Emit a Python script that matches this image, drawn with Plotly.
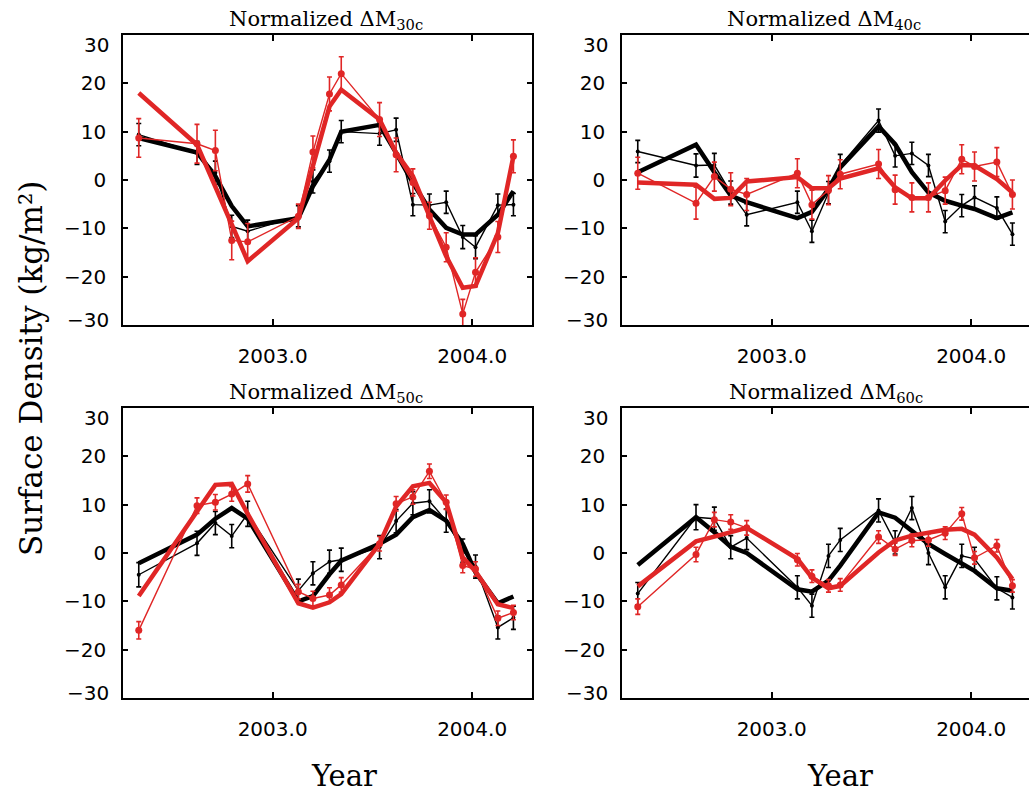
import plotly.graph_objects as go

# ---------------- data ----------------
years = [2002.329, 2002.621, 2002.713, 2002.795, 2002.875, 2003.129, 2003.202,
         2003.285, 2003.344, 2003.536, 2003.619, 2003.703, 2003.786, 2003.870,
         2003.953, 2004.017, 2004.129, 2004.207]

panel_titles = ["Normalized ΔM<sub>30c</sub>", "Normalized ΔM<sub>40c</sub>",
                "Normalized ΔM<sub>50c</sub>", "Normalized ΔM<sub>60c</sub>"]

x_tickvals = [2003.0, 2004.0]
x_ticktext = ["2003.0", "2004.0"]
y_tickvals = [-30, -20, -10, 0, 10, 20, 30]
y_ticktext = ["", "−20", "−10", "0", "10", "20", ""]
y_edge_labels = ["30", "−30"]

# panel 1 (30c)
p1_black_thin = [9.4, 5.6, 1.5, -9.6, -10.6, -7.5, -0.3, 3.9, 10.0, 9.6, 10.4, -5.1, -5.2, -4.6, -11.8, -13.9, -5.2, -5.1]
p1_black_err = [2.3, 2.4, 2.4, 2.3, 2.3, 2.2, 2.4, 2.3, 2.3, 2.4, 2.4, 2.3, 2.3, 2.3, 2.4, 2.4, 2.3, 2.3]
p1_black_thick = [8.7, 5.7, 0.8, -5.4, -9.6, -7.9, -1.3, 4.2, 10.0, 11.4, 5.6, -0.6, -6.1, -9.9, -11.3, -11.3, -7.2, -2.3]
p1_red_thin = [8.7, 7.5, 6.1, -12.5, -12.8, -7.5, 5.8, 17.8, 22.0, 12.5, 5.2, -0.5, -7.4, -13.9, -27.7, -19.1, -11.8, 4.9]
p1_red_err = [4.0, 4.0, 4.2, 4.0, 3.8, 2.5, 3.3, 3.5, 3.5, 3.5, 3.5, 2.8, 2.8, 3.0, 3.0, 3.0, 3.2, 3.4]
p1_red_thick = [18.0, 7.3, -1.4, -9.2, -16.8, -7.9, 2.8, 15.2, 18.7, 12.5, 5.6, 0.8, -7.5, -15.8, -22.3, -21.9, -11.0, 4.9]

# panel 2 (40c)
p2_black_thin = [5.9, 3.0, 3.1, -2.6, -7.2, -4.6, -10.6, -2.6, 3.0, 12.3, 5.0, 5.5, 3.0, -8.6, -5.3, -3.6, -5.8, -11.2]
p2_black_err = [2.3, 2.4, 2.4, 2.4, 2.3, 2.3, 2.3, 2.3, 2.3, 2.4, 2.3, 2.3, 2.3, 2.3, 2.3, 2.4, 2.3, 2.3]
p2_black_thick = [1.6, 7.3, 1.6, -3.2, -4.6, -7.9, -6.6, -1.9, 2.6, 11.1, 7.4, 1.6, -2.6, -4.3, -5.3, -6.0, -7.9, -6.7]
p2_red_thin = [1.4, -4.8, 0.7, -1.9, -3.0, 1.4, -5.1, -2.1, 1.2, 3.3, -2.0, -3.6, -3.6, -2.2, 4.3, 2.8, 3.7, -3.0]
p2_red_err = [3.3, 3.3, 3.0, 3.4, 3.3, 3.0, 3.0, 3.0, 3.0, 3.0, 3.0, 3.0, 3.0, 2.8, 3.0, 3.0, 3.0, 3.0]
p2_red_thick = [-0.5, -1.0, -3.9, -3.7, -0.3, 0.6, -1.7, -1.7, 0.3, 2.4, -1.5, -3.8, -3.8, -0.1, 3.1, 3.0, 0.2, -2.6]

# panel 3 (50c)
p3_black_thin = [-4.5, 2.0, 6.2, 3.5, 8.1, -7.8, -4.2, -1.8, -1.4, 1.2, 6.6, 10.3, 10.7, 6.7, 0.5, -2.8, -15.4, -13.4]
p3_black_err = [2.5, 2.5, 2.4, 2.4, 2.6, 2.4, 2.4, 2.4, 2.4, 2.4, 2.4, 2.4, 2.4, 2.4, 2.4, 2.4, 2.4, 2.4]
p3_black_thick = [-2.1, 3.8, 7.1, 9.3, 7.1, -10.0, -8.9, -4.4, -1.6, 1.9, 3.8, 7.4, 8.9, 6.7, 1.9, -4.0, -10.4, -9.0]
p3_red_thin = [-16.0, 9.8, 10.5, 12.2, 14.3, -8.0, -9.4, -8.7, -6.6, 1.9, 10.2, 11.6, 16.9, 10.5, -2.6, -3.3, -13.5, -12.3]
p3_red_err = [1.8, 1.6, 1.6, 1.5, 1.7, 1.5, 1.5, 1.5, 1.5, 1.5, 1.5, 1.5, 1.5, 1.5, 1.5, 1.5, 1.5, 1.5]
p3_red_thick = [-8.9, 8.8, 14.1, 14.3, 8.1, -10.4, -11.3, -10.2, -8.5, 1.9, 9.6, 13.8, 14.5, 10.5, -0.9, -3.8, -10.6, -11.4]

# panel 4 (60c)
p4_black_thin = [-8.4, 7.4, 7.1, 1.2, 3.1, -7.1, -10.9, -0.6, 2.7, 8.8, 2.2, 9.3, 0.0, -7.1, -0.6, -1.2, -7.3, -9.2]
p4_black_err = [2.3, 2.6, 2.4, 2.4, 2.4, 2.4, 2.4, 2.4, 2.4, 2.4, 2.4, 2.4, 2.4, 2.4, 2.4, 2.4, 2.4, 2.4]
p4_black_thick = [-2.5, 7.4, 4.3, 1.3, 0.0, -7.5, -8.0, -5.7, -2.6, 8.4, 7.3, 4.6, 1.9, -0.2, -2.3, -3.7, -7.3, -7.8]
p4_red_thin = [-11.1, -0.3, 6.9, 6.4, 5.2, -1.4, -4.8, -6.8, -6.6, 3.3, 0.8, 2.6, 2.7, 4.1, 8.1, -1.0, 1.5, -6.8]
p4_red_err = [1.6, 1.5, 1.5, 1.5, 1.5, 1.3, 1.3, 1.3, 1.3, 1.3, 1.3, 1.3, 1.3, 1.3, 1.3, 1.3, 1.3, 1.3]
p4_red_thick = [-6.9, 2.4, 3.4, 4.3, 5.2, -1.2, -5.1, -7.3, -6.8, 0.1, 2.6, 3.6, 4.1, 4.8, 5.0, 3.8, -0.9, -5.4]

panels = [
    (p1_black_thin, p1_black_err, p1_black_thick, p1_red_thin, p1_red_err, p1_red_thick),
    (p2_black_thin, p2_black_err, p2_black_thick, p2_red_thin, p2_red_err, p2_red_thick),
    (p3_black_thin, p3_black_err, p3_black_thick, p3_red_thin, p3_red_err, p3_red_thick),
    (p4_black_thin, p4_black_err, p4_black_thick, p4_red_thin, p4_red_err, p4_red_thick),
]

# ---------------- layout geometry ----------------
W, H = 1029, 793
RED = "#e02626"
BLACK = "#000000"
SERIF = "DejaVu Serif"
SANS = "DejaVu Sans"

def px_x(p):
    return p / W

def px_y(p):
    return 1 - p / H

x_domains = [[px_x(123), px_x(532)], [px_x(622), 1.0]] * 2
y_domains = [[px_y(325), px_y(35)]] * 2 + [[px_y(698), px_y(408)]] * 2
x_ranges = [[2002.25, 2002.25 + 409 / 199.5], [2002.25, 2002.25 + 407 / 199.5]] * 2
axis_left_px = [123, 622, 123, 622]
panel_top_px = [35, 35, 408, 408]
panel_bot_px = [325, 325, 698, 698]

fig = go.Figure()

for i, (bt, be, bk, rt, re, rk) in enumerate(panels):
    xa = "x" if i == 0 else f"x{i+1}"
    ya = "y" if i == 0 else f"y{i+1}"
    fig.add_trace(go.Scatter(x=years, y=bk, mode="lines", xaxis=xa, yaxis=ya,
                             line=dict(color=BLACK, width=4.5), showlegend=False))
    fig.add_trace(go.Scatter(x=years, y=bt, mode="lines+markers", xaxis=xa, yaxis=ya,
                             line=dict(color=BLACK, width=1.4),
                             marker=dict(color=BLACK, size=4),
                             error_y=dict(type="data", array=be, color=BLACK,
                                          thickness=1.6, width=2.5),
                             showlegend=False))
    fig.add_trace(go.Scatter(x=years, y=rt, mode="lines+markers", xaxis=xa, yaxis=ya,
                             line=dict(color=RED, width=1.4),
                             marker=dict(color=RED, size=7),
                             error_y=dict(type="data", array=re, color=RED,
                                          thickness=1.6, width=2.5),
                             showlegend=False))
    fig.add_trace(go.Scatter(x=years, y=rk, mode="lines", xaxis=xa, yaxis=ya,
                             line=dict(color=RED, width=4.5), showlegend=False))

layout = dict(
    template="none",
    width=W, height=H,
    margin=dict(l=0, r=0, t=0, b=0, pad=0, autoexpand=False),
    paper_bgcolor="white", plot_bgcolor="white",
    showlegend=False,
)

for i in range(4):
    xk = "xaxis" if i == 0 else f"xaxis{i+1}"
    yk = "yaxis" if i == 0 else f"yaxis{i+1}"
    ya = "y" if i == 0 else f"y{i+1}"
    xa = "x" if i == 0 else f"x{i+1}"
    right = (i % 2 == 1)
    layout[xk] = dict(
        domain=x_domains[i], range=x_ranges[i], anchor=ya,
        tickvals=x_tickvals, ticktext=x_ticktext,
        ticks="inside", ticklen=6, tickwidth=1.5, tickcolor=BLACK,
        showline=True, linecolor=BLACK, linewidth=1.6, mirror="ticks",
        showgrid=False, zeroline=False, automargin=False,
        tickfont=dict(family=SANS, size=20, color=BLACK),
        ticklabelstandoff=12,
    )
    layout[yk] = dict(
        domain=y_domains[i], range=[-30, 30], anchor=xa,
        tickvals=y_tickvals, ticktext=y_ticktext,
        ticks="inside", ticklen=5, tickwidth=1.5, tickcolor=BLACK,
        showline=True, linecolor=BLACK, linewidth=1.6,
        mirror=False if right else "ticks",
        showgrid=False, zeroline=False, automargin=False,
        tickfont=dict(family=SANS, size=20, color=BLACK),
        ticklabelstandoff=11,
    )

fig.update_layout(**layout)

title_pos = [(326, 20), (824, 20), (326, 393), (826, 393)]
annotations = []
for t, (cx, cy) in zip(panel_titles, title_pos):
    annotations.append(dict(text=t, x=px_x(cx), y=px_y(cy), xref="paper", yref="paper",
                            xanchor="center", yanchor="middle", showarrow=False,
                            font=dict(family=SERIF, size=21, color=BLACK)))
# edge labels (30 / -30) drawn slightly inside the box, as in the reference
for i in range(4):
    for lab, ypix in zip(y_edge_labels, (panel_top_px[i] + 10, panel_bot_px[i] - 5)):
        annotations.append(dict(text=lab, x=px_x(axis_left_px[i] - 12), y=px_y(ypix),
                                xref="paper", yref="paper", xanchor="right", yanchor="middle",
                                showarrow=False,
                                font=dict(family=SANS, size=20, color=BLACK)))
annotations.append(dict(text="Surface Density (kg/m²)", x=px_x(31), y=px_y(369),
                        xref="paper", yref="paper", xanchor="center", yanchor="middle",
                        textangle=-90, showarrow=False,
                        font=dict(family=SERIF, size=31, color=BLACK)))
for cx in (344, 840):
    annotations.append(dict(text="Year", x=px_x(cx), y=px_y(776), xref="paper", yref="paper",
                            xanchor="center", yanchor="middle", showarrow=False,
                            font=dict(family=SERIF, size=29, color=BLACK)))
fig.update_layout(annotations=annotations)

fig.write_html("out.html")
